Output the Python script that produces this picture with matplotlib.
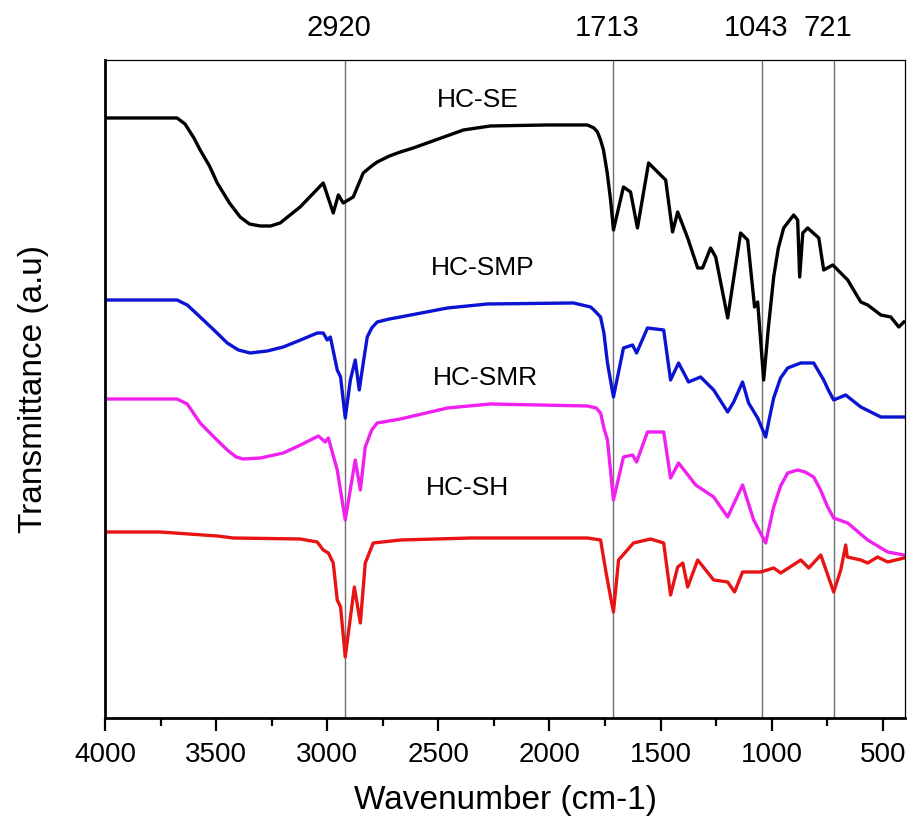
"""
FTIR spectra of the four HC samples, stacked with peak guide lines.
"""
import matplotlib.pyplot as plt

plt.rcParams['font.family'] = ['Liberation Sans', 'DejaVu Sans']

# HC-SE (black)
se_wn = [4000, 3676, 3640, 3600, 3572, 3530, 3495, 3440, 3392, 3350, 3302, 3255,
         3212, 3122, 3070, 3018, 2973, 2950, 2928, 2883, 2838, 2800, 2775, 2720,
         2671, 2613, 2500, 2387, 2266, 2009, 1829, 1800, 1784, 1770, 1757, 1740,
         1725, 1712, 1667, 1635, 1604, 1554, 1500, 1477, 1446, 1423, 1378, 1333,
         1311, 1275, 1252, 1198, 1140, 1108, 1077, 1063, 1036, 1015, 991, 970,
         946, 901, 883, 874, 860, 838, 788, 766, 725, 658, 599, 568, 509, 464,
         428, 405]
se_t = [600, 600, 594, 580, 568, 552, 535, 515, 501, 494, 492, 492,
        495, 511, 523, 535, 505, 523, 515, 521, 545, 552, 556, 562,
        566, 570, 579, 588, 592, 593, 593, 590, 586, 578, 568, 545,
        518, 488, 531, 526, 490, 555, 543, 538, 486, 506, 480, 450,
        450, 470, 461, 400, 485, 478, 411, 416, 338, 390, 441, 470,
        490, 503, 498, 441, 485, 490, 480, 448, 453, 438, 416, 413, 403, 401,
        391, 396]

# HC-SMP (blue)
smp_wn = [4000, 3676, 3630, 3572, 3510, 3450, 3400, 3347, 3270, 3198, 3120, 3045,
          3018, 3000, 2986, 2955, 2940, 2919, 2896, 2874, 2856, 2838, 2820, 2800,
          2775, 2720, 2671, 2459, 2279, 1892, 1815, 1800, 1770, 1755, 1739, 1712,
          1667, 1626, 1608, 1559, 1486, 1455, 1419, 1374, 1320, 1261, 1198, 1171,
          1131, 1104, 1063, 1027, 1010, 991, 960, 928, 869, 811, 766, 745, 721,
          667, 599, 509, 405]
smp_t = [418, 418, 413, 401, 388, 375, 368, 365, 367, 371, 378, 385,
         385, 378, 381, 348, 341, 300, 338, 358, 328, 355, 381, 390,
         396, 399, 401, 410, 414, 415, 411, 408, 401, 385, 355, 321,
         370, 373, 365, 390, 388, 338, 355, 336, 341, 328, 306, 316,
         336, 315, 300, 281, 300, 320, 340, 350, 355, 355, 338, 328, 318,
         323, 311, 301, 301]

# HC-SMR (magenta)
smr_wn = [4000, 3676, 3630, 3572, 3510, 3450, 3410, 3378, 3300, 3198, 3120, 3040,
          3009, 2995, 2955, 2919, 2874, 2851, 2829, 2800, 2775, 2671, 2459, 2266,
          1829, 1790, 1770, 1755, 1739, 1712, 1667, 1626, 1608, 1559, 1486, 1455,
          1419, 1342, 1261, 1198, 1131, 1081, 1027, 1010, 991, 960, 928, 883,
          850, 811, 780, 750, 721, 658, 568, 478, 405]
smr_t = [319, 319, 314, 295, 281, 268, 261, 259, 260, 265, 273, 282,
         276, 280, 248, 198, 258, 228, 271, 288, 295, 299, 310, 314,
         312, 310, 305, 290, 278, 218, 261, 263, 256, 286, 286, 240,
         255, 233, 221, 201, 233, 198, 175, 192, 211, 232, 245, 248,
         246, 241, 228, 212, 200, 195, 178, 166, 163]

# HC-SH (red)
sh_wn = [4000, 3752, 3495, 3423, 3122, 3045, 3018, 2995, 2973, 2955, 2940, 2919,
         2878, 2851, 2829, 2793, 2671, 2350, 2000, 1829, 1770, 1745, 1725, 1712,
         1689, 1622, 1545, 1486, 1455, 1423, 1400, 1378, 1333, 1261, 1198, 1167,
         1131, 1050, 991, 959, 869, 833, 779, 721, 689, 667, 660, 599, 568, 523,
         478, 405]
sh_t = [186, 186, 182, 180, 179, 176, 168, 165, 155, 118, 111, 61,
        131, 95, 155, 175, 178, 180, 180, 180, 178, 145, 121, 106,
        158, 175, 179, 175, 123, 151, 155, 131, 158, 138, 136, 126,
        146, 146, 150, 145, 158, 150, 163, 126, 148, 173, 161, 158, 155, 161,
        156, 160]

peaks = [2920, 1713, 1043, 721]

series = [
    (se_wn, se_t, 'black', 'HC-SE', 2324, 618),
    (smp_wn, smp_t, '#0a14d2', 'HC-SMP', 2302, 450),
    (smr_wn, smr_t, '#f020f0', 'HC-SMR', 2288, 340),
    (sh_wn, sh_t, '#e81414', 'HC-SH', 2369, 230),
]

fig = plt.figure(figsize=(9.07, 8.25), dpi=100)
ax = fig.add_axes([0.1158, 0.1297, 0.882, 0.7976])

for p in peaks:
    ax.axvline(p, color='#707070', lw=1.0, zorder=1)
    ax.annotate(str(p), xy=(p, 1.0486), xycoords=('data', 'axes fraction'),
                xytext=(-6, 0), textcoords='offset pixels',
                ha='center', va='center', fontsize=21, annotation_clip=False)

for wn, t, color, name, lx, ly in series:
    ax.plot(wn, t, color=color, lw=2.4, zorder=2, solid_joinstyle='round')
    ax.text(lx, ly, name, ha='center', va='center', fontsize=19)

ax.set_xlim(4000, 400)
ax.set_ylim(0, 658)
ax.set_xticks([4000, 3500, 3000, 2500, 2000, 1500, 1000, 500])
ax.set_xticks([3750, 3250, 2750, 2250, 1750, 1250, 750], minor=True)
ax.set_yticks([])
ax.tick_params(axis='x', which='major', direction='out', length=9.5, width=1.6,
               labelsize=20, pad=8)
ax.tick_params(axis='x', which='minor', direction='out', length=5.5, width=1.6)

for side in ['left', 'bottom']:
    ax.spines[side].set_linewidth(2.0)
for side in ['top', 'right']:
    ax.spines[side].set_linewidth(0.9)

ax.set_xlabel('Wavenumber (cm-1)', fontsize=24, labelpad=12)
ax.set_ylabel('Transmittance (a.u)', fontsize=24, labelpad=40)

plt.savefig('out.png', dpi=100)
